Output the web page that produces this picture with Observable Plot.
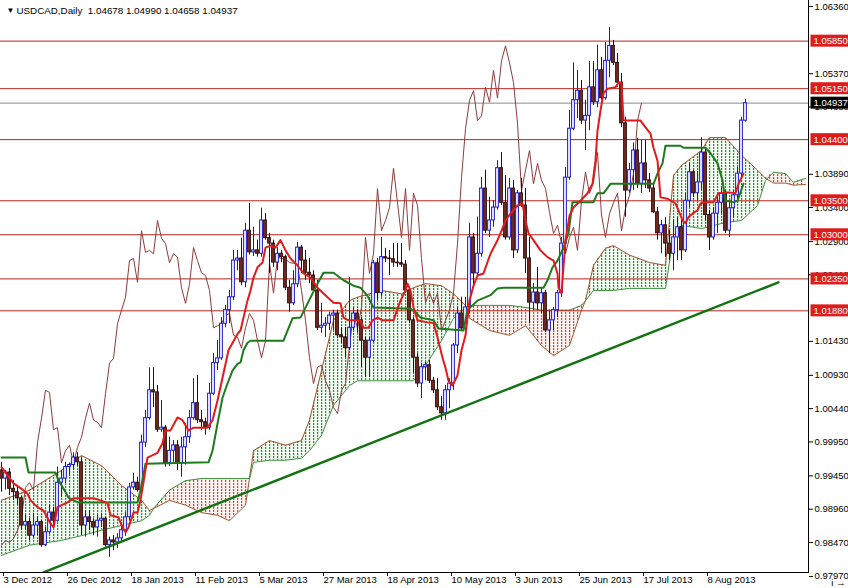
<!DOCTYPE html>
<html><head><meta charset="utf-8">
<script src="https://cdn.jsdelivr.net/npm/d3@7"></script>
<script src="https://cdn.jsdelivr.net/npm/@observablehq/plot@0.6"></script>
<style>
html,body{margin:0;padding:0;background:#fff;}
#chart svg{display:block;}
</style></head><body>
<div id="chart"></div>
<script>
// ---- data ----
const symbol = "USDCAD,Daily";
const lastOHLC = [1.04678, 1.04990, 1.04658, 1.04937];

const opens = [.9953,.9941,.9950,.9926,.9921,.9912,.9872,.9877,.9857,.9872,.9877,.9843,.9862,.9891,.9879,.9935,.9941,.9958,.9961,.9972,
.9965,.9872,.9884,.9877,.9869,.9879,.9882,.9843,.9850,.9847,.9853,.9865,.9884,.9928,.9935,.9924,.9994,1.0030,1.0071,1.0068,
1.0013,1.0016,.9964,.9982,.9990,.9964,.9987,1.0002,1.0030,1.0052,1.0027,1.0024,1.0016,1.0066,1.0111,1.0118,1.0169,1.0189,1.0208,1.0262,
1.0265,1.0230,1.0306,1.0274,1.0277,1.0272,1.0321,1.0295,1.0287,1.0259,1.0272,1.0267,1.0222,1.0199,1.0227,1.0281,1.0262,1.0244,1.0240,1.0218,
1.0163,1.0166,1.0169,1.0181,1.0184,1.0152,1.0149,1.0133,1.0163,1.0184,1.0174,1.0144,1.0119,1.0144,1.0258,1.0214,1.0267,1.0265,1.0264,1.0259,
1.0258,1.0256,1.0218,1.0174,1.0119,1.0081,1.0105,1.0108,1.0085,1.0071,1.0046,1.0037,1.0071,1.0081,1.0137,1.0184,1.0162,1.0193,1.0296,1.0243,
1.0272,1.0368,1.0306,1.0321,1.0340,1.0398,1.0347,1.0296,1.0368,1.0277,1.0361,1.0343,1.0265,1.0200,1.0215,1.0199,1.0214,1.0159,1.0174,1.0189,
1.0214,1.0287,1.0384,1.0456,1.0498,1.0512,1.0468,1.0475,1.0517,1.0495,1.0542,1.0501,1.0556,1.0578,1.0553,1.0524,1.0464,1.0365,1.0395,1.0424,
1.0375,1.0405,1.0380,1.0368,1.0333,1.0302,1.0314,1.0287,1.0272,1.0296,1.0311,1.0277,1.0350,1.0392,1.0361,1.0377,1.0421,1.0329,1.0296,1.0331,
1.0347,1.0361,1.0306,1.0339,1.0358,1.0390,1.04678];
const highs = [.9965,.9953,.9956,.9938,.9931,.9915,.9887,.9882,.9890,.9884,.9879,.9869,.9902,.9899,.9958,.9953,.9965,.9964,.9979,.9979,
.9971,.9894,.9894,.9882,.9887,.9890,.9884,.9855,.9857,.9860,.9872,.9891,.9934,.9949,.9943,1.0005,1.0041,1.0104,1.0104,1.0078,
1.0056,1.0019,1.0002,.9997,.9997,1.0002,1.0022,1.0041,1.0088,1.0093,1.0041,1.0030,1.0081,1.0125,1.0144,1.0178,1.0196,1.0218,1.0277,1.0277,
1.0295,1.0317,1.0346,1.0311,1.0292,1.0339,1.0331,1.0302,1.0292,1.0281,1.0277,1.0270,1.0233,1.0247,1.0289,1.0284,1.0277,1.0265,1.0247,1.0233,
1.0199,1.0178,1.0186,1.0189,1.0189,1.0163,1.0163,1.0237,1.0193,1.0189,1.0178,1.0149,1.0149,1.0262,1.0265,1.0296,1.0280,1.0277,1.0287,1.0287,
1.0287,1.0262,1.0221,1.0178,1.0125,1.0111,1.0112,1.0115,1.0090,1.0088,1.0062,1.0078,1.0088,1.0140,1.0193,1.0208,1.0208,1.0317,1.0302,1.0326,
1.0384,1.0395,1.0355,1.0350,1.0409,1.0421,1.0387,1.0383,1.0380,1.0365,1.0383,1.0368,1.0296,1.0228,1.0252,1.0222,1.0218,1.0189,1.0193,1.0218,
1.0296,1.0399,1.0483,1.0553,1.0542,1.0527,1.0498,1.0555,1.0555,1.0579,1.0561,1.0583,1.0605,1.0586,1.0567,1.0537,1.0473,1.0405,1.0435,1.0442,
1.0439,1.0439,1.0390,1.0374,1.0340,1.0321,1.0325,1.0306,1.0321,1.0325,1.0321,1.0361,1.0405,1.0395,1.0392,1.0443,1.0428,1.0336,1.0340,1.0361,
1.0370,1.0365,1.0350,1.0365,1.0399,1.0473,1.04990];
const lows = [.9921,.9924,.9916,.9909,.9902,.9865,.9865,.9850,.9853,.9857,.9840,.9841,.9859,.9869,.9877,.9913,.9934,.9946,.9953,.9959,
.9857,.9855,.9865,.9857,.9855,.9869,.9840,.9825,.9835,.9838,.9846,.9856,.9879,.9924,.9921,.9921,.9987,1.0027,1.0046,1.0009,
1.0009,.9958,.9959,.9965,.9953,.9943,.9961,.9993,1.0027,1.0022,1.0012,1.0005,1.0012,1.0063,1.0100,1.0115,1.0163,1.0169,1.0203,1.0247,
1.0225,1.0222,1.0270,1.0268,1.0267,1.0267,1.0292,1.0243,1.0252,1.0247,1.0259,1.0218,1.0186,1.0196,1.0222,1.0243,1.0233,1.0228,1.0215,1.0159,
1.0155,1.0149,1.0159,1.0159,1.0147,1.0140,1.0119,1.0130,1.0159,1.0155,1.0105,1.0090,1.0090,1.0141,1.0203,1.0208,1.0259,1.0240,1.0252,1.0252,
1.0252,1.0215,1.0169,1.0096,1.0075,1.0059,1.0085,1.0081,1.0066,1.0041,1.0027,1.0027,1.0044,1.0071,1.0125,1.0159,1.0149,1.0184,1.0222,1.0240,
1.0267,1.0302,1.0296,1.0311,1.0336,1.0343,1.0292,1.0292,1.0265,1.0272,1.0340,1.0243,1.0169,1.0189,1.0189,1.0184,1.0156,1.0125,1.0159,1.0178,
1.0208,1.0272,1.0380,1.0453,1.0471,1.0462,1.0424,1.0453,1.0490,1.0487,1.0498,1.0498,1.0531,1.0549,1.0517,1.0458,1.0326,1.0361,1.0365,1.0368,
1.0361,1.0368,1.0362,1.0331,1.0292,1.0272,1.0267,1.0262,1.0247,1.0262,1.0262,1.0274,1.0340,1.0355,1.0350,1.0365,1.0321,1.0277,1.0292,1.0302,
1.0331,1.0302,1.0296,1.0325,1.0350,1.0384,1.04658];
const closes = [.9941,.9950,.9926,.9921,.9912,.9872,.9877,.9857,.9872,.9877,.9843,.9862,.9891,.9879,.9935,.9941,.9958,.9961,.9972,.9965,
.9872,.9884,.9877,.9869,.9879,.9882,.9843,.9850,.9847,.9853,.9865,.9884,.9928,.9935,.9924,.9994,1.0030,1.0071,1.0068,1.0013,
1.0016,.9964,.9982,.9990,.9964,.9987,1.0002,1.0030,1.0052,1.0027,1.0024,1.0016,1.0066,1.0111,1.0118,1.0169,1.0189,1.0208,1.0262,1.0265,
1.0230,1.0306,1.0274,1.0277,1.0272,1.0321,1.0295,1.0287,1.0259,1.0272,1.0267,1.0222,1.0199,1.0227,1.0281,1.0262,1.0244,1.0240,1.0218,1.0163,
1.0166,1.0169,1.0181,1.0184,1.0152,1.0149,1.0133,1.0163,1.0184,1.0174,1.0144,1.0119,1.0144,1.0258,1.0214,1.0267,1.0265,1.0264,1.0259,1.0258,
1.0256,1.0218,1.0174,1.0119,1.0081,1.0105,1.0108,1.0085,1.0071,1.0046,1.0037,1.0071,1.0081,1.0137,1.0184,1.0162,1.0193,1.0296,1.0243,1.0272,
1.0368,1.0306,1.0321,1.0340,1.0398,1.0347,1.0296,1.0368,1.0277,1.0361,1.0343,1.0265,1.0200,1.0215,1.0199,1.0214,1.0159,1.0174,1.0189,1.0214,
1.0287,1.0384,1.0456,1.0498,1.0512,1.0468,1.0475,1.0517,1.0495,1.0542,1.0501,1.0556,1.0578,1.0553,1.0524,1.0464,1.0365,1.0395,1.0424,1.0375,
1.0405,1.0380,1.0368,1.0333,1.0302,1.0314,1.0287,1.0272,1.0296,1.0311,1.0277,1.0350,1.0392,1.0361,1.0377,1.0421,1.0329,1.0296,1.0331,1.0347,
1.0361,1.0306,1.0339,1.0358,1.0390,1.0468,1.04937];

// Ichimoku lines (bar index, price)
const tenkanIdx = [0,3,4.75,6.5,7.25,9,10.5,12.25,13,14,16.5,18,23,24.75,26.5,27.25,29.25,30.25,31,31.75,33,34,34.75,36.5,39,40.25,41,42.25,44,45.25,46.75,48,51.5,52.75,54,55.5,56.75,59,59.75,60.5,61.5,62.25,63,64,65.25,66,67.25,68.5,69.75,71,72.25,74,75.5,77.25,79,80.25,81.5,83,84.75,85.5,86.75,89.75,90.5,91.75,92.75,94,95.25,98,99.75,101,101.5,102.25,103,104,106.5,108,109,110.25,111,111.75,112.75,114,115,116,117,118,119,120.5,122.25,124,124.75,126,127.25,129,130.25,131,131.75,133,134.75,136.5,138,139,139.25,140,141,142,143,144.75,146.5,147.75,148.5,149,149.75,150.5,151.5,153.5,154.25,155,155.5,156.5,159.75,161,162.25,163,164,164.75,166.5,168.5,169.25,170.25,171,171.75,172.75,174,174.75,176,178,179.25,180.5,182.25,183.5,184.25,185.5];
const tenkanVal = [.9958,.9934,.9927,.9919,.9909,.9899,.9894,.9875,.9869,.9899,.9906,.9912,.9912,.9909,.9905,.9887,.9884,.9869,.9862,.9869,.9891,.9891,.9909,.9972,.9979,.9993,1.0012,1.0012,1.0031,1.0027,1.0012,1.0016,1.0016,1.0027,1.0056,1.0096,1.0130,1.0154,1.0159,1.0178,1.0203,1.0218,1.0237,1.0252,1.0259,1.0281,1.0284,1.0281,1.0292,1.0277,1.0265,1.0255,1.0243,1.0237,1.0222,1.0215,1.0208,1.0200,1.0199,1.0178,1.0174,1.0174,1.0163,1.0163,1.0174,1.0178,1.0174,1.0174,1.0203,1.0218,1.0228,1.0218,1.0193,1.0174,1.0171,1.0170,1.0149,1.0119,1.0104,1.0085,1.0078,1.0093,1.0130,1.0152,1.0203,1.0225,1.0240,1.0243,1.0272,1.0292,1.0302,1.0321,1.0331,1.0343,1.0346,1.0321,1.0302,1.0292,1.0277,1.0267,1.0262,1.0243,1.0222,1.0214,1.0292,1.0328,1.0340,1.0350,1.0361,1.0375,1.0409,1.0453,1.0483,1.0508,1.0515,1.0517,1.0524,1.0523,1.0468,1.0468,1.0468,1.0458,1.0449,1.0428,1.0409,1.0355,1.0353,1.0346,1.0336,1.0321,1.0317,1.0326,1.0331,1.0336,1.0346,1.0348,1.0348,1.0361,1.0362,1.0362,1.0361,1.0375,1.0390];
const kijunIdx = [0,6,6.75,13.5,14.25,15.75,16.75,19,34,34.75,36,51.75,52.75,54,55.25,56.5,57.75,59,59.75,60.5,61.5,62.25,70.5,71.5,72.75,74.75,79,80.5,83,85.5,88,89.75,91.5,93,102.25,103.5,104.75,108,109.25,115.5,116.5,119,122.25,124,125.5,135.5,136.5,137.75,139,140.5,141.75,142.75,148,149,150.5,152.25,163,164,165.25,166,169.75,170.5,176,177.25,179,180.25,181,183,184,185.5];
const kijunVal = [.9972,.9972,.9950,.9950,.9938,.9924,.9913,.9906,.9906,.9924,.9963,.9965,.9982,1.0022,1.0060,1.0081,1.0100,1.0110,1.0112,1.0130,1.0141,1.0144,1.0144,1.0159,1.0177,1.0178,1.0228,1.0244,1.0244,1.0233,1.0225,1.0222,1.0210,1.0193,1.0191,1.0186,1.0178,1.0174,1.0162,1.0159,1.0189,1.0203,1.0211,1.0221,1.0222,1.0222,1.0233,1.0252,1.0262,1.0281,1.0302,1.0348,1.0348,1.0361,1.0361,1.0375,1.0375,1.0390,1.0405,1.0431,1.0431,1.0428,1.0428,1.0420,1.0405,1.0380,1.0350,1.0348,1.0350,1.0375];
const kumoIdx = [0,7,15,20,25,30,35,37,38,42,46,50,54,57,61,62,63,67,71,75,77,80,83,87,89,95,100,103,106,110,113,116,117,122,127,131,135,138,142,145,146,148,151,153,157,162,166,168,170,175,177,181,185,189,191,193,196,198,201];
const senkouA = [.9909,.9924,.9953,.9975,.9960,.9931,.9909,.9894,.9897,.9909,.9902,.9891,.9887,.9879,.9902,.9941,.9982,.9997,.9990,.9997,1.0027,1.0100,1.0174,1.0203,1.0208,1.0218,1.0213,1.0222,1.0228,1.0225,1.0213,1.0196,1.0177,1.0159,1.0152,1.0166,1.0137,1.0122,1.0137,1.0189,1.0203,1.0255,1.0280,1.0284,1.0270,1.0259,1.0255,1.0387,1.0402,1.0424,1.0443,1.0443,1.0417,1.0395,1.0383,1.0376,1.0376,1.0373,1.0374];
const senkouB = [.9828,.9843,.9850,.9857,.9865,.9872,.9879,.9887,.9897,.9924,.9938,.9941,.9941,.9941,.9941,.9941,.9965,.9968,.9968,.9971,.9982,1.0005,1.0049,1.0078,1.0085,1.0085,1.0085,1.0085,1.0108,1.0144,1.0177,1.0193,1.0196,1.0196,1.0196,1.0193,1.0189,1.0189,1.0189,1.0196,1.0203,1.0218,1.0218,1.0218,1.0221,1.0221,1.0221,1.0299,1.0314,1.0309,1.0312,1.0318,1.0321,1.0343,1.0380,1.0392,1.0390,1.0377,1.0383];

const chikouShift = 26;
const levels = [1.0585, 1.0515, 1.0440, 1.0350, 1.0300, 1.0235, 1.0188];
const currentPrice = 1.04937;
const priceTicks = [1.0636, 1.0537, 1.0488, 1.0389, 1.0340, 1.0290, 1.0241, 1.0143, 1.0093, 1.0044, 0.9995, 0.9945, 0.9896, 0.9847, 0.9797];
const dateTicks = [0, 16, 32, 48, 64, 80, 96, 112, 128, 144, 160, 176];
const dateLabels = ["3 Dec 2012","26 Dec 2012","18 Jan 2013","11 Feb 2013","5 Mar 2013","27 Mar 2013","18 Apr 2013","10 May 2013","3 Jun 2013","25 Jun 2013","17 Jul 2013","8 Aug 2013"];
const trendIdx = [10.5, 194.25];
const trendVal = [0.9803, 1.0230];

// ---- tables ----
const bars = closes.map((c, i) => ({i, o: opens[i], h: highs[i], l: lows[i], c, up: c >= opens[i]}));
const chikou = closes.map((c, i) => ({i: i - chikouShift, c})).filter(d => d.i >= 0);
const tenkan = tenkanIdx.map((i, k) => ({i, v: tenkanVal[k]}));
const kijun = kijunIdx.map((i, k) => ({i, v: kijunVal[k]}));
const kumo = kumoIdx.map((i, k) => ({i, a: senkouA[k], b: senkouB[k]}));
const trend = trendIdx.map((i, k) => ({i, v: trendVal[k]}));

const font = "'Liberation Sans', Arial, sans-serif";
const bull = "#1414c8", bearFill = "#7b2b22", bearLine = "#2a0c0c";

const plot = Plot.plot({
  width: 848, height: 588,
  marginLeft: 0, marginRight: 40, marginTop: 0, marginBottom: 16,
  style: {fontFamily: font, fontSize: "9.5px", background: "#fff", color: "#000"},
  x: {type: "linear", domain: [-0.25, 201.75], axis: null},
  y: {type: "linear", domain: [0.98028, 1.06448], axis: null},
  marks: [
    // faint tint of the cloud, then the dotted hatch on top
    Plot.areaY(kumo, {x: "i", y1: "b", y2: d => Math.max(d.a, d.b), fill: "#2e9e2e", fillOpacity: 0.06}),
    Plot.areaY(kumo, {x: "i", y1: "a", y2: d => Math.max(d.a, d.b), fill: "#d2442a", fillOpacity: 0.06}),
    Plot.areaY(kumo, {x: "i", y1: "b", y2: d => Math.max(d.a, d.b), fill: "url(#kumoUp)"}),
    Plot.areaY(kumo, {x: "i", y1: "a", y2: d => Math.max(d.a, d.b), fill: "url(#kumoDn)"}),
    Plot.line(kumo, {x: "i", y: "a", stroke: "#a0522d", strokeWidth: 1}),
    Plot.line(kumo, {x: "i", y: "b", stroke: "#3a8f3a", strokeWidth: 1}),
    Plot.ruleY(levels, {stroke: "#b3261e", strokeWidth: 1}),
    Plot.ruleY([currentPrice], {stroke: "#8c8c8c", strokeWidth: 1}),
    Plot.line(chikou, {x: "i", y: "c", stroke: "#8e3b3b", strokeWidth: 1}),
    Plot.ruleX(bars, {x: "i", y1: "l", y2: "h", stroke: d => d.up ? bull : bearLine, strokeWidth: 1}),
    Plot.rect(bars, {x1: d => d.i - 0.34, x2: d => d.i + 0.34, y1: "o", y2: "c",
      fill: d => d.up ? "#fff" : bearFill, stroke: d => d.up ? bull : bearLine, strokeWidth: 1}),
    Plot.line(kijun, {x: "i", y: "v", stroke: "#1d7a1d", strokeWidth: 2}),
    Plot.line(tenkan, {x: "i", y: "v", stroke: "#e41a1a", strokeWidth: 2}),
    Plot.line(trend, {x: "i", y: "v", stroke: "#137313", strokeWidth: 2.5, clip: true}),
    Plot.frame({anchor: "right", stroke: "#000"}),
    Plot.frame({anchor: "bottom", stroke: "#000"}),
    Plot.axisY(priceTicks, {anchor: "right", tickSize: 4, tickPadding: 2, tickFormat: d => d.toFixed(5), fontSize: 9.5, fill: "#000", stroke: "#000"}),
    Plot.axisX(dateTicks, {anchor: "bottom", tickSize: 4, tickPadding: 0, textAnchor: "start", dx: 2,
      tickFormat: d => dateLabels[dateTicks.indexOf(d)], fontSize: 9.5, fill: "#000", stroke: "#000"}),
    Plot.text(levels, {y: d => d, frameAnchor: "right", dx: 5, textAnchor: "start", text: d => d.toFixed(5), fill: "#fff", fontSize: 9.5}),
    Plot.text([currentPrice], {y: d => d, frameAnchor: "right", dx: 5, textAnchor: "start", text: d => d.toFixed(5), fill: "#fff", fontSize: 9.5}),
    Plot.text(["\u25BC"], {frameAnchor: "top-left", dx: 6, dy: 7, fontSize: 8, fill: "#000"}),
    Plot.text([symbol + "  " + lastOHLC.map(v => v.toFixed(5)).join(" ")], {frameAnchor: "top-left", dx: 16, dy: 7, textAnchor: "start", fontSize: 9.8, fill: "#000"})
  ]
});
document.getElementById("chart").append(plot);

const svg = d3.select(plot);
// hatch patterns of the cloud (dotted histogram look)
const defs = svg.insert("defs", ":first-child");
[["kumoUp", "#14a014"], ["kumoDn", "#e8401a"]].forEach(([id, col]) => {
  const p = defs.append("pattern").attr("id", id).attr("width", 4).attr("height", 3)
    .attr("patternUnits", "userSpaceOnUse");
  p.append("rect").attr("x", 1).attr("y", 0).attr("width", 1.2).attr("height", 2).attr("fill", col);
});
// label boxes behind the level / price texts
const levelStr = new Set(levels.map(d => d.toFixed(5)));
const priceStr = currentPrice.toFixed(5);
svg.selectAll("text").each(function() {
  const t = this.textContent;
  if (!levelStr.has(t) && t !== priceStr) return;
  const b = this.getBBox();
  d3.select(this.parentNode).insert("rect", () => this)
    .attr("x", b.x - 3).attr("y", b.y - 0.5).attr("width", b.width + 10).attr("height", b.height + 1)
    .attr("transform", this.getAttribute("transform"))
    .attr("fill", t === priceStr ? "#000" : "#e01b1b");
});
</script>
</body></html>
